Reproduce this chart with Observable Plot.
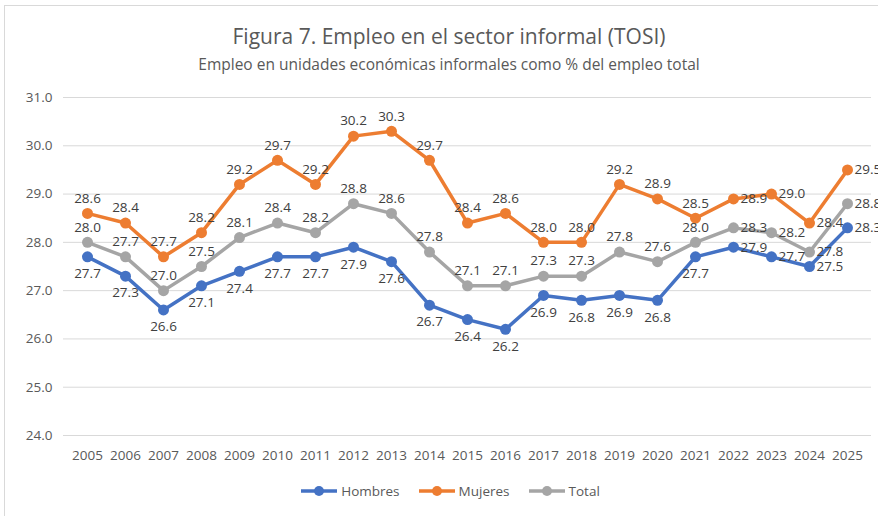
<!DOCTYPE html>
<html>
<head>
<meta charset="utf-8">
<script src="https://cdn.jsdelivr.net/npm/d3@7"></script>
<script src="https://cdn.jsdelivr.net/npm/@observablehq/plot@0.6"></script>
<style>
  html, body { margin: 0; padding: 0; background: #fff; overflow: hidden; }
  body { width: 878px; height: 516px; position: relative; font-family: "Open Sans", sans-serif; }
  #frame { position: absolute; left: 4px; top: 5px; width: 900px; height: 540px; border: 1px solid #d9d9d9; box-sizing: border-box; }
  #title { position: absolute; left: 0; width: 898px; top: 22px; text-align: center; font-size: 21px; color: #595959; }
  #subtitle { position: absolute; left: 0; width: 898px; top: 53px; text-align: center; font-size: 15.5px; color: #595959; }
  #chart { position: absolute; left: 0; top: 75px; }
  #legend { position: absolute; top: 482px; left: 0; width: 900px; display: flex; justify-content: center; gap: 18px; font-size: 13.5px; color: #595959; }
  #legend .item { display: flex; align-items: center; gap: 3px; }
</style>
</head>
<body>
<div id="frame"></div>
<div id="title">Figura 7. Empleo en el sector informal (TOSI)</div>
<div id="subtitle">Empleo en unidades económicas informales como % del empleo total</div>
<div id="chart"></div>
<div id="legend"></div>
<script>
const years = [2005, 2006, 2007, 2008, 2009, 2010, 2011, 2012, 2013, 2014, 2015, 2016, 2017, 2018, 2019, 2020, 2021, 2022, 2023, 2024, 2025];
const hombres = [27.7, 27.3, 26.6, 27.1, 27.4, 27.7, 27.7, 27.9, 27.6, 26.7, 26.4, 26.2, 26.9, 26.8, 26.9, 26.8, 27.7, 27.9, 27.7, 27.5, 28.3];
const mujeres = [28.6, 28.4, 27.7, 28.2, 29.2, 29.7, 29.2, 30.2, 30.3, 29.7, 28.4, 28.6, 28.0, 28.0, 29.2, 28.9, 28.5, 28.9, 29.0, 28.4, 29.5];
const total   = [28.0, 27.7, 27.0, 27.5, 28.1, 28.4, 28.2, 28.8, 28.6, 27.8, 27.1, 27.1, 27.3, 27.3, 27.8, 27.6, 28.0, 28.3, 28.2, 27.8, 28.8];
const seriesNames = ["Hombres", "Mujeres", "Total"];
const seriesColors = ["#4472C4", "#ED7D31", "#A5A5A5"];
const yTicks = [24, 25, 26, 27, 28, 29, 30, 31];

const valuesBySeries = {Hombres: hombres, Mujeres: mujeres, Total: total};
const rows = [];
for (const s of seriesNames) {
  valuesBySeries[s].forEach((v, i) => rows.push({year: years[i], value: v, serie: s}));
}
const fmt = d => d.toFixed(1);
// label placement rule: last years to the right, otherwise Hombres below, others above
const rightLbl = rows.filter(d => d.year >= 2022);
const aboveLbl = rows.filter(d => d.year < 2022 && d.serie !== "Hombres");
const belowLbl = rows.filter(d => d.year < 2022 && d.serie === "Hombres");
const lblStyle = {x: "year", y: "value", text: d => fmt(d.value), fill: "#404040", fontSize: 13.5};

const chart = Plot.plot({
  width: 878,
  height: 400,
  marginTop: 22,
  marginBottom: 40,
  marginLeft: 63,
  marginRight: 7,
  style: {fontFamily: "Open Sans, sans-serif", background: "transparent", overflow: "visible"},
  x: {type: "point", domain: years, padding: 0.5, label: null},
  y: {domain: [24, 31], label: null},
  color: {domain: seriesNames, range: seriesColors},
  marks: [
    Plot.gridY(yTicks, {stroke: "#d9d9d9", strokeOpacity: 1, strokeWidth: 1}),
    Plot.axisY(yTicks, {tickSize: 0, tickPadding: 11, tickFormat: fmt, fontSize: 13.5, fill: "#595959", label: null}),
    Plot.axisX({tickSize: 0, tickPadding: 15, tickFormat: d => String(d), fontSize: 13.5, fill: "#595959", label: null}),
    Plot.line(rows, {x: "year", y: "value", stroke: "serie", z: "serie", strokeWidth: 3.5, strokeLinejoin: "round"}),
    Plot.dot(rows, {x: "year", y: "value", fill: "serie", r: 5.5}),
    Plot.text(aboveLbl, {...lblStyle, dy: -15}),
    Plot.text(belowLbl, {...lblStyle, dy: 17}),
    Plot.text(rightLbl, {...lblStyle, dx: 7, textAnchor: "start"})
  ]
});
document.getElementById("chart").appendChild(chart);

const legend = document.getElementById("legend");
seriesNames.forEach((name, i) => {
  const item = document.createElement("div");
  item.className = "item";
  item.innerHTML = `<svg width="38" height="12"><line x1="1" y1="6" x2="37" y2="6" stroke="${seriesColors[i]}" stroke-width="3.5"/><circle cx="19" cy="6" r="5" fill="${seriesColors[i]}"/></svg><span>${name}</span>`;
  legend.appendChild(item);
});
</script>
</body>
</html>
